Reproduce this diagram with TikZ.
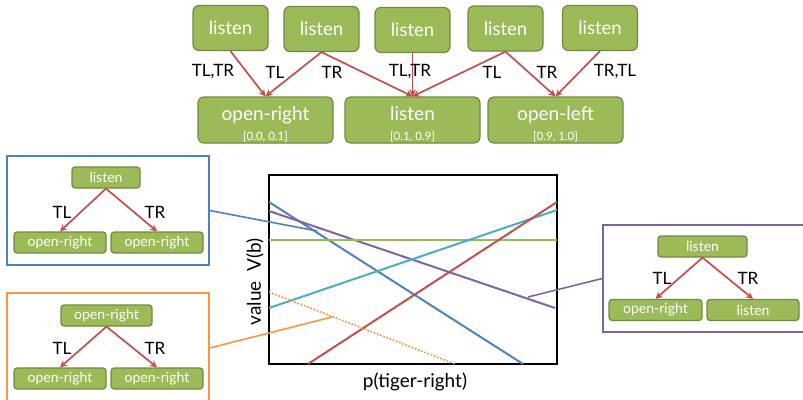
\documentclass[tikz,border=0pt]{standalone}
\usepackage{fontspec}
\setmainfont{Lato}
\usetikzlibrary{arrows.meta}
\definecolor{ogreen}{HTML}{9BBB59}
\definecolor{gborder}{HTML}{71893F}
\definecolor{ored}{HTML}{C0504D}
\definecolor{oblue}{HTML}{4F81BD}
\definecolor{oorange}{HTML}{F79646}
\definecolor{opurple}{HTML}{8064A2}
\definecolor{ocyan}{HTML}{4BACC6}
\newcommand\intsz{\fontsize{11.5}{12}\selectfont}
\newcommand\upstrut{\rule{0pt}{22pt}}
\begin{document}
\begin{tikzpicture}[x=1pt,y=-1pt,
  gnode/.style={draw=gborder, fill=ogreen, line width=1.2pt, text=white, inner sep=0pt, align=center},
  topnode/.style={gnode, rounded corners=6pt, minimum width=75pt, minimum height=45pt, font=\fontsize{18.5}{20}\selectfont},
  botnode/.style={gnode, rounded corners=6pt, minimum width=135pt, minimum height=46pt, font=\fontsize{19}{19}\selectfont},
  smallnode/.style={gnode, rounded corners=3pt, minimum height=21pt, font=\fontsize{14}{15}\selectfont},
  arr/.style={draw=ored, line width=1.7pt, -{Stealth[length=7pt,width=7pt]}},
  elabel/.style={font=\fontsize{17}{18}\selectfont, text=black, inner sep=0pt},
  framebox/.style={draw=#1, line width=1.5pt, fill=none, inner sep=0pt},
  plotline/.style={draw=#1, line width=2pt},
  conn/.style={draw=#1, line width=1.6pt}
]
\useasboundingbox (0,0) rectangle (803,399);

% top tree
\node[topnode] (t1) at (230.5,28) {listen};
\node[topnode] (t2) at (321.5,29) {listen};
\node[topnode] (t3) at (412.5,30) {listen};
\node[topnode] (t4) at (505.5,28.5) {listen};
\node[topnode] (t5) at (600,28) {listen};
\node[botnode] (b1) at (265.5,120) {\upstrut open-right\\[1pt]{\intsz[0.0, 0.1]}};
\node[botnode] (b2) at (412.5,120) {\upstrut listen\\[1pt]{\intsz[0.1, 0.9]}};
\node[botnode] (b3) at (555.5,120) {\upstrut open-left\\[1pt]{\intsz[0.9, 1.0]}};
\path[arr] (t1.south) -- (b1.north);
\path[arr] (t2.south) -- (b1.north);
\path[arr] (t2.south) -- (b2.north);
\path[arr] (t3.south) -- (b2.north);
\path[arr] (t4.south) -- (b2.north);
\path[arr] (t4.south) -- (b3.north);
\path[arr] (t5.south) -- (b3.north);
\node[elabel] (l1) at (213,72) {TL,TR};
\node[elabel] (l2) at (275,72) {TL};
\node[elabel] (l3) at (332,72) {TR};
\node[elabel] (l4) at (410,72) {TL,TR};
\node[elabel] (l5) at (492,72) {TL};
\node[elabel] (l6) at (547,72) {TR};
\node[elabel] (l7) at (615,72) {TR,TL};

% blue box
\node[framebox=oblue, minimum width=202pt, minimum height=109pt] (bbox) at (108,210.5) {};
\node[smallnode, minimum width=68pt] (bl) at (106,177.5) {listen};
\node[smallnode, minimum width=92pt] (bo1) at (60,242.5) {open-right};
\node[smallnode, minimum width=92pt] (bo2) at (157,242.5) {open-right};
\path[arr] (bl.south) -- (bo1.north);
\path[arr] (bl.south) -- (bo2.north);
\node[elabel] (bTL) at (62,212) {TL};
\node[elabel] (bTR) at (155,212) {TR};

% orange box
\node[framebox=oorange, minimum width=202pt, minimum height=110pt] (obox) at (108,348) {};
\node[smallnode, minimum width=91pt] (oo) at (106.5,315.5) {open-right};
\node[smallnode, minimum width=92pt] (oo1) at (60,378.5) {open-right};
\node[smallnode, minimum width=92pt] (oo2) at (157,378.5) {open-right};
\path[arr] (oo.south) -- (oo1.north);
\path[arr] (oo.south) -- (oo2.north);
\node[elabel] (oTL) at (62,348) {TL};
\node[elabel] (oTR) at (155,348) {TR};

% purple box
\node[framebox=opurple, minimum width=207pt, minimum height=107pt] (pbox) at (706.5,278.5) {};
\node[smallnode, minimum width=89pt] (pl) at (702.5,246.5) {listen};
\node[smallnode, minimum width=93pt] (po1) at (655.5,310) {open-right};
\node[smallnode, minimum width=92pt] (po2) at (753,310) {listen};
\path[arr] (pl.south) -- (po1.north);
\path[arr] (pl.south) -- (po2.north);
\node[elabel] (pTL) at (662,278) {TL};
\node[elabel] (pTR) at (748,278) {TR};

% chart
\node[draw=black, line width=2pt, minimum width=288pt, minimum height=189pt, inner sep=0pt] (chart) at (413,269.5) {};
\draw[plotline=oblue] (269,202) -- (523,364);
\draw[plotline=opurple] (269,211) -- (555,308);
\draw[plotline=ogreen] (269,240) -- (557,240);
\draw[plotline=ocyan] (269,308) -- (557,210);
\draw[plotline=ored] (308,364) -- (557,202);
\draw[plotline=oorange, line width=1.7pt, dash pattern=on 1.7pt off 1.7pt] (269,292) -- (455,364);
\node[font=\fontsize{19}{20}\selectfont, rotate=90] (ylab) at (255,282) {value\ \ V(b)};
\node[font=\fontsize{19}{20}\selectfont] (xlab) at (415,382) {p(tiger-right)};

% connectors
\coordinate (cb) at (317,231);
\coordinate (co) at (332,317);
\coordinate (cp) at (528,297);
\draw[conn=oblue] (bbox.east) -- (cb);
\draw[conn=oorange] (obox.east) -- (co);
\draw[conn=opurple] (cp) -- (pbox.west);
\end{tikzpicture}
\end{document}
